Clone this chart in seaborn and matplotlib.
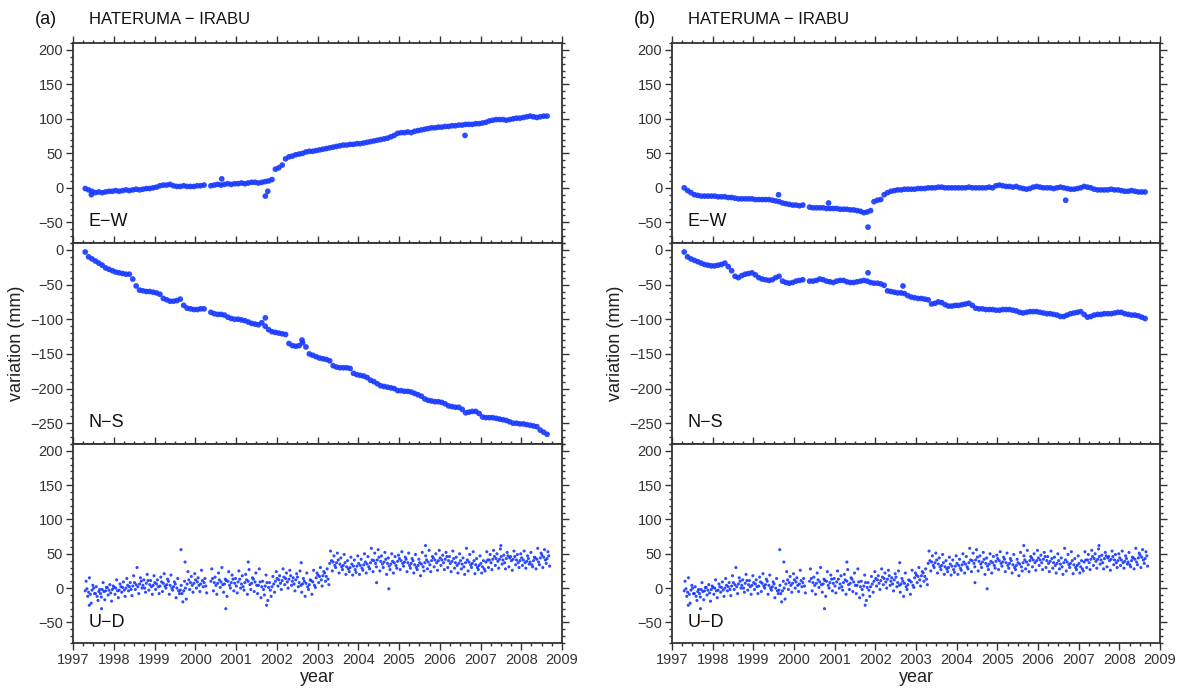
import numpy as np
import pandas as pd
import matplotlib
matplotlib.use("Agg")
import matplotlib.pyplot as plt
import seaborn as sns
from matplotlib.ticker import MultipleLocator

sns.set_theme(style="ticks")
plt.rcParams['font.family'] = ['Liberation Sans', 'DejaVu Sans']

nan = np.nan

# ---------------- data (monthly samples, first sample at 1997.30) ----------------
start_year = 1997.30

ew_a = [-1, -3, -5, -7, -6, -7, -6, -5,
        -5, -4, -5, -4, -3, -4, -3, -2, -3, -2, -1, -1,
        0, 1, 3, 4, 4, 5, 3, 2, 2, 3, 2, 2,
        2, 3, 3, 4, nan, 3, 4, 5, 4, 5, 6, 5,
        6, 6, 7, 6, 7, 8, 8, 7, 8, 9, 10, 12,
        27, 29, 33, 42, 45, 46, 48, 49, 50, 52, 53, 53,
        54, 55, 56, 57, 58, 59, 60, 61, 62, 62, 63, 63,
        64, 64, 65, 66, 67, 68, 69, 70, 71, 72, 74, 76,
        79, 80, 80, 81, 80, 82, 83, 84, 85, 86, 87, 87,
        88, 88, 89, 89, 90, 90, 91, 91, 92, 92, 92, 93,
        93, 94, 95, 97, 98, 99, 99, 99, 98, 99, 100, 101,
        101, 102, 103, 104, 103, 102, 103, 104, 104]

ns_a = [-3, -10, -13, -16, -19, -22, -26, -28,
        -30, -32, -33, -34, -35, -35, -42, -52, -58, -59, -60, -60,
        -61, -62, -64, -70, -72, -74, -74, -73, -71, -80, -84, -85,
        -86, -86, -85, -85, nan, -90, -92, -93, -93, -94, -97, -99,
        -100, -100, -101, -102, -104, -106, -107, -108, -105, -110, -115, -118,
        -119, -120, -121, -122, -135, -138, -139, -138, -134, -140, -150, -152,
        -154, -156, -157, -158, -160, -167, -169, -170, -170, -170, -171, -178,
        -180, -181, -182, -184, -188, -190, -193, -196, -197, -198, -199, -200,
        -203, -203, -204, -204, -205, -207, -209, -211, -215, -217, -218, -219,
        -219, -220, -222, -225, -226, -227, -227, -230, -235, -234, -233, -233,
        -236, -241, -242, -242, -242, -243, -244, -245, -246, -248, -250, -250,
        -251, -251, -252, -253, -254, -255, -260, -263, -266]

ew_b = [0, -4, -7, -10, -11, -12, -12, -12,
        -12, -12, -13, -13, -13, -14, -14, -15, -16, -16, -16, -16,
        -16, -17, -17, -17, -17, -17, -18, -19, -20, -22, -23, -24,
        -25, -25, -26, -25, nan, -28, -29, -29, -29, -29, -30, -30,
        -30, -30, -31, -31, -31, -32, -32, -33, -34, -36, -35, -33,
        -20, -18, -17, -10, -7, -5, -4, -3, -3, -2, -2, -2,
        -2, -1, -1, -1, 0, 0, 0, 1, 1, 0, 0, 0,
        0, 0, 0, 0, 1, 0, 0, 0, 0, 0, 1, 0,
        3, 4, 3, 2, 2, 1, 2, 0, -1, -2, -1, 1,
        2, 1, 0, 0, 0, -1, 0, 1, 0, -1, -2, -2,
        -1, 0, 2, 1, 0, -2, -3, -3, -3, -3, -2, -3,
        -3, -4, -5, -5, -4, -5, -6, -6, -6]

ns_b = [-3, -10, -13, -15, -17, -19, -21, -22,
        -23, -23, -22, -21, -19, -24, -30, -38, -40, -37, -35, -34,
        -33, -36, -40, -42, -43, -44, -43, -40, -38, -45, -47, -48,
        -47, -45, -44, -43, nan, -45, -45, -44, -42, -43, -45, -46,
        -47, -45, -44, -44, -46, -47, -47, -46, -45, -44, -45, -47,
        -48, -48, -49, -51, -59, -60, -61, -62, -62, -63, -66, -68,
        -69, -70, -70, -71, -72, -78, -77, -75, -76, -79, -81, -81,
        -80, -80, -79, -78, -77, -80, -84, -85, -85, -86, -86, -86,
        -87, -87, -86, -86, -86, -87, -88, -90, -91, -90, -89, -89,
        -89, -90, -91, -92, -92, -93, -94, -96, -96, -94, -92, -91,
        -90, -89, -93, -97, -96, -94, -93, -93, -92, -92, -92, -91,
        -90, -90, -92, -93, -94, -94, -95, -97, -99]

# U-D (identical in both columns): several members of the daily cloud per month
ud_mid = [-4, -6, -3, -8, -5, -2, -4, -3,
          -2, 0, -3, 1, 0, 2, 3, 5, 6, 4, 7, 5,
          4, 6, 3, 7, 5, 4, 2, 0, -3, -4, 6, 8,
          7, 9, 6, 8, nan, 10, 8, 7, 9, 6, 10, 8,
          7, 9, 6, 8, 10, 7, 9, 4, 2, 3, 1, 2,
          10, 12, 11, 14, 13, 10, 12, 8, 6, 7, 5, 9,
          15, 17, 18, 17, 36, 38, 37, 35, 33, 31, 30, 32,
          32, 33, 34, 35, 37, 40, 41, 39, 38, 36, 35, 37,
          39, 40, 38, 37, 36, 34, 33, 35, 37, 38, 40, 41,
          40, 41, 42, 40, 39, 37, 36, 35, 37, 38, 36, 34,
          33, 31, 38, 41, 42, 43, 42, 41, 43, 44, 42, 41,
          40, 41, 39, 38, 40, 42, 44, 45, 43]

ud_mid2 = [-1, -9, 0, -12, -8, -5, 1, -7,
           1, -4, 2, -3, 4, -2, 8, 2, 10, 0, 11, 2,
           8, 2, 9, 3, 10, 0, 6, -4, -8, 0, 12, 4,
           12, 4, 11, 3, nan, 14, 4, 12, 5, 11, 4, 13,
           3, 13, 2, 12, 5, 13, 4, 9, -2, 8, -3, 6,
           14, 7, 16, 9, 18, 6, 16, 4, 10, 2, 11, 4,
           19, 12, 22, 13, 40, 33, 41, 31, 37, 28, 35, 27,
           36, 29, 38, 31, 41, 36, 45, 35, 42, 32, 39, 33,
           43, 36, 42, 33, 40, 30, 37, 31, 41, 34, 44, 37,
           44, 37, 46, 36, 43, 33, 40, 31, 41, 34, 40, 30,
           36, 28, 41, 37, 46, 39, 46, 37, 47, 40, 46, 37,
           44, 37, 43, 34, 44, 38, 48, 41, 47]

ud_hi = [10, 15, 4, 2, -2, 8, 1, 5,
         3, 12, 6, 9, 14, 8, 18, 30, 15, 12, 20, 11,
         18, 12, 16, 21, 13, 19, 9, 14, 4, 10, 24, 17,
         21, 15, 26, 14, nan, 28, 16, 22, 30, 13, 24, 19,
         14, 25, 18, 20, 27, 15, 22, 28, 10, 19, 8, 17,
         24, 18, 28, 22, 26, 15, 21, 25, 14, 22, 12, 26,
         22, 30, 24, 28, 54, 47, 51, 44, 49, 40, 45, 41,
         47, 42, 50, 46, 58, 51, 56, 47, 52, 44, 50, 46,
         48, 53, 45, 51, 43, 49, 42, 52, 47, 55, 46, 50,
         55, 48, 52, 46, 54, 45, 50, 44, 58, 49, 53, 43,
         47, 40, 53, 49, 55, 50, 57, 48, 52, 46, 54, 49,
         50, 54, 47, 52, 45, 58, 51, 56, 53]

ud_lo = [-12, -22, -8, -18, -13, -17, -10, -19,
         -9, -14, -6, -12, -4, -11, -2, -8, 0, -6, -3, -9,
         -2, -8, -5, 0, -9, -3, -14, -8, -20, -16, -2, -6,
         0, -5, 2, -7, nan, -4, -9, 1, -6, -12, 0, -4,
         -7, 0, -3, -9, -2, -5, -8, -14, -10, -18, -12, -6,
         3, -2, 5, 0, 4, -4, 2, -6, -12, -2, -9, 1,
         8, 3, 10, 5, 25, 30, 22, 27, 20, 24, 19, 23,
         20, 26, 22, 28, 24, 31, 25, 30, 20, 27, 22, 29,
         27, 32, 24, 29, 22, 27, 18, 25, 28, 24, 31, 26,
         33, 27, 30, 24, 29, 22, 28, 20, 25, 30, 21, 27,
         22, 25, 30, 27, 33, 29, 35, 28, 31, 26, 34, 30,
         33, 29, 35, 31, 28, 34, 30, 36, 32]

# isolated outlying points (year, mm)
ew_a_out_t = [1997.45, 2000.65, 2001.72, 2001.78, 2006.62]
ew_a_out_v = [-10, 13, -12, -5, 76]
ns_a_out_t = [2001.72, 2002.62]
ns_a_out_v = [-98, -130]
ew_b_out_t = [1999.62, 2000.85, 2001.82, 2006.68]
ew_b_out_v = [-10, -22, -57, -18]
ns_b_out_t = [2001.82, 2002.68]
ns_b_out_v = [-33, -52]
ud_out_t = [1997.40, 1997.70, 1999.65, 1999.75, 2000.75, 2001.30, 2001.75, 2002.60,
            2004.45, 2004.75, 2005.65, 2007.50]
ud_out_v = [-25, -30, 56, 38, -30, 38, -25, 37, 8, -1, 62, 62]

components = ["E\u2212W", "N\u2212S", "U\u2212D"]
panel_letters = ["(a)", "(b)"]
pair_name = "HATERUMA \u2212 IRABU"
year_ticks = list(range(1997, 2010))

n = len(ew_a)
years = start_year + np.arange(n) / 12.0

BLUE = "#1638ff"
DARK = "#333333"

fig = plt.figure(figsize=(11.83, 6.90), dpi=100)

col_left = [73 / 1183, 672 / 1183]
col_width = [489 / 1183, 488 / 1183]
row_bottom = [1 - 243 / 690, 1 - 444 / 690, 1 - 643 / 690]
row_top = [1 - 43 / 690, 1 - 243 / 690, 1 - 444 / 690]

# small sub-month sampling offsets so members of the same month do not stack
member_offsets = [0.0, 0.042, 0.021, 0.063]


def make_df(values_list, out_t, out_v):
    frames = [pd.DataFrame({"year": years + member_offsets[i], "mm": v})
              for i, v in enumerate(values_list)]
    frames.append(pd.DataFrame({"year": out_t, "mm": out_v}))
    return pd.concat(frames, ignore_index=True).dropna()


ud_members = [ud_mid, ud_mid2, ud_hi, ud_lo]
series = [
    [(make_df([ew_a], ew_a_out_t, ew_a_out_v), (-80, 210), 17),
     (make_df([ns_a], ns_a_out_t, ns_a_out_v), (-280, 10), 17),
     (make_df(ud_members, ud_out_t, ud_out_v), (-80, 210), 5)],
    [(make_df([ew_b], ew_b_out_t, ew_b_out_v), (-80, 210), 17),
     (make_df([ns_b], ns_b_out_t, ns_b_out_v), (-280, 10), 17),
     (make_df(ud_members, ud_out_t, ud_out_v), (-80, 210), 5)],
]

for c in range(2):
    for r in range(3):
        df, ylim, msize = series[c][r]
        ax = fig.add_axes([col_left[c], row_bottom[r], col_width[c], row_top[r] - row_bottom[r]])
        sns.scatterplot(data=df, x="year", y="mm", ax=ax, s=msize, color=BLUE,
                        linewidth=0, edgecolor="none", legend=False, alpha=0.9)
        ax.set_xlim(1997, 2009)
        ax.set_ylim(*ylim)
        ax.xaxis.set_major_locator(MultipleLocator(1))
        ax.xaxis.set_minor_locator(MultipleLocator(0.25))
        ax.yaxis.set_major_locator(MultipleLocator(50))
        ax.yaxis.set_minor_locator(MultipleLocator(10))
        ax.tick_params(which="both", direction="out", top=True, bottom=True,
                       left=True, right=True, color=DARK, labelcolor=DARK,
                       labelsize=10.5, width=1.0)
        ax.tick_params(which="major", length=5, pad=2)
        ax.tick_params(which="minor", length=2.5)
        ax.tick_params(axis="x", labelbottom=(r == 2), labeltop=False)
        ax.tick_params(axis="y", labelright=False)
        if r == 2:
            ax.set_xticks(year_ticks)
            ax.set_xticklabels([str(y) for y in year_ticks])
        for sp in ax.spines.values():
            sp.set_visible(True)
            sp.set_color(DARK)
            sp.set_linewidth(1.3)
        ax.set_xlabel("year" if r == 2 else "", fontsize=13, color="#222222", labelpad=2)
        ax.set_ylabel("variation (mm)" if r == 1 else "", fontsize=13, color="#222222", labelpad=4)
        ax.text(0.031, 0.105, components[r], transform=ax.transAxes, fontsize=13,
                color="#111111", ha="left", va="center")
        if r == 0:
            fig.text(col_left[c] - 38 / 1183, 1 - 20 / 690, panel_letters[c], fontsize=13,
                     color="#111111", ha="left", va="center")
            fig.text(col_left[c] + 16 / 1183, 1 - 20 / 690, pair_name, fontsize=12,
                     color="#111111", ha="left", va="center")

fig.savefig("out.png", dpi=100)
